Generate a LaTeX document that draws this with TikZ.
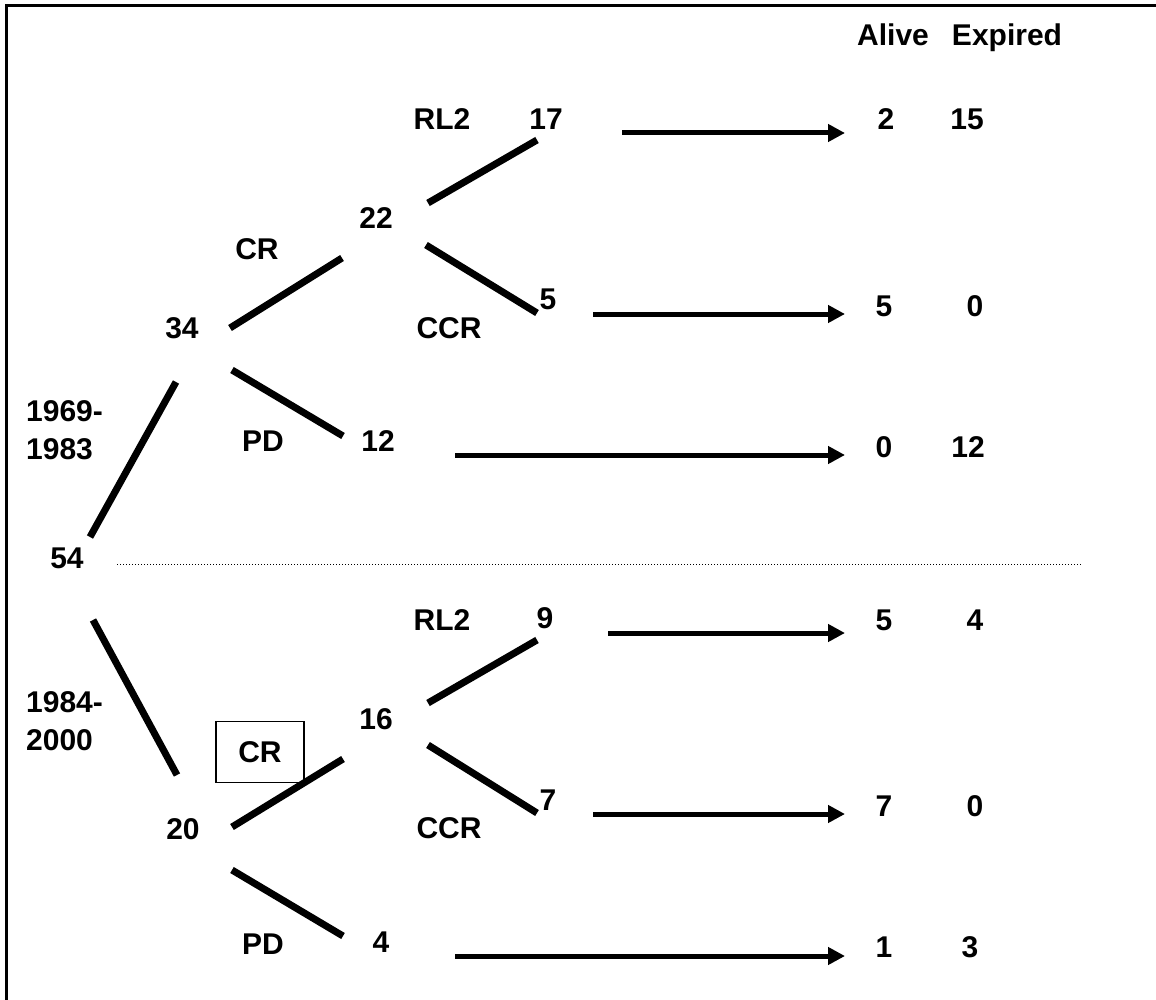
\documentclass[tikz,border=0pt]{standalone}
\usepackage{fontspec}
\setmainfont{Liberation Sans}
\usetikzlibrary{calc,arrows.meta}
\begin{document}
\begin{tikzpicture}[x=1pt,y=-1pt,
  lbl/.style={font=\fontsize{30}{38}\selectfont\bfseries, inner sep=0pt, text height=21.5pt, text depth=0pt},
  yearlbl/.style={font=\fontsize{30}{38}\selectfont\bfseries, inner sep=0pt, align=left, anchor=north west},
  boxlbl/.style={lbl, draw, line width=1.6pt, minimum width=88pt, minimum height=61pt},
  branch/.style={line width=7pt},
  arr/.style={line width=5pt, -{Triangle[length=17pt,width=17pt]}},
  sep/.style={line width=1pt, dash pattern=on 1pt off 2pt},
  frame/.style={line width=3pt}
]
\useasboundingbox (0,0) rectangle (1156,1000);
\fill[white] (0,0) rectangle (1156,1000);
% frame (cut off at right and bottom)
\draw[frame] (6,1010) -- (6,6) -- (1165,6);

% headers
\node[lbl] (hA) at (893,35) {Alive};
\node[lbl] (hE) at (1007,35) {Expired};

% tree counts
\node[lbl] (n54) at (67,558) {54};
\node[lbl] (n34) at (182,328) {34};
\node[lbl] (n20) at (183,829) {20};
\node[lbl] (n22) at (376,218) {22};
\node[lbl] (n16) at (376,719) {16};
\node[lbl] (n17) at (546,119) {17};
\node[lbl] (n5)  at (548,299) {5};
\node[lbl] (n12) at (378,441) {12};
\node[lbl] (n9)  at (545,618) {9};
\node[lbl] (n7)  at (548,800) {7};
\node[lbl] (n4)  at (381,942) {4};

% outcome columns
\node[lbl] (a1) at (886,119) {2};  \node[lbl] (e1) at (967,119) {15};
\node[lbl] (a2) at (884,306) {5};  \node[lbl] (e2) at (975,306) {0};
\node[lbl] (a3) at (884,447) {0};  \node[lbl] (e3) at (968,447) {12};
\node[lbl] (a4) at (884,620) {5};  \node[lbl] (e4) at (975,620) {4};
\node[lbl] (a5) at (884,806) {7};  \node[lbl] (e5) at (975,806) {0};
\node[lbl] (a6) at (884,947) {1};  \node[lbl] (e6) at (970,947) {3};

% branch labels
\node[lbl] (rl2a) at (442,119) {RL2};
\node[lbl] (cra)  at (257,249) {CR};
\node[lbl] (ccra) at (449,328) {CCR};
\node[lbl] (pda)  at (263,441) {PD};
\node[lbl] (rl2b) at (442,620) {RL2};
\node[boxlbl] (crb) at (260,752) {CR};
\node[lbl] (ccrb) at (449,828) {CCR};
\node[lbl] (pdb)  at (263,944) {PD};

% period labels
\node[yearlbl] (y1) at (26,400) {1969-\\1983};
\node[yearlbl] (y2) at (26,691) {1984-\\2000};

% separator
\draw[sep] (117,564) -- (1082,564);

% branches
\draw[branch] ($(n54)+(23,-21)$) -- ($(n34)+(-6,54)$);
\draw[branch] ($(n54)+(26,62)$) -- ($(n20)+(-6,-54)$);
\draw[branch] ($(n34)+(48,0)$) -- ($(n22)+(-34,40)$);
\draw[branch] ($(n34)+(50,42)$) -- ($(n12)+(-35,-5)$);
\draw[branch] ($(n22)+(52,-15)$) -- ($(n17)+(-9,21)$);
\draw[branch] ($(n22)+(50,27)$) -- ($(n5)+(-11,14)$);
\draw[branch] ($(n20)+(49,-2)$) -- ($(n16)+(-33,40)$);
\draw[branch] ($(n20)+(49,41)$) -- ($(n4)+(-38,-6)$);
\draw[branch] ($(n16)+(52,-16)$) -- ($(n9)+(-8,22)$);
\draw[branch] ($(n16)+(52,26)$) -- ($(n7)+(-11,13)$);

% outcome arrows
\draw[arr] ($(n17)+(76,14)$) -- ($(a1)+(-41,14)$);
\draw[arr] ($(n5)+(45,15)$) -- ($(a2)+(-39,8)$);
\draw[arr] ($(n12)+(77,14)$) -- ($(a3)+(-39,8)$);
\draw[arr] ($(n9)+(63,15)$) -- ($(a4)+(-39,13)$);
\draw[arr] ($(n7)+(45,14)$) -- ($(a5)+(-39,8)$);
\draw[arr] ($(n4)+(74,14)$) -- ($(a6)+(-39,9)$);
\end{tikzpicture}
\end{document}
